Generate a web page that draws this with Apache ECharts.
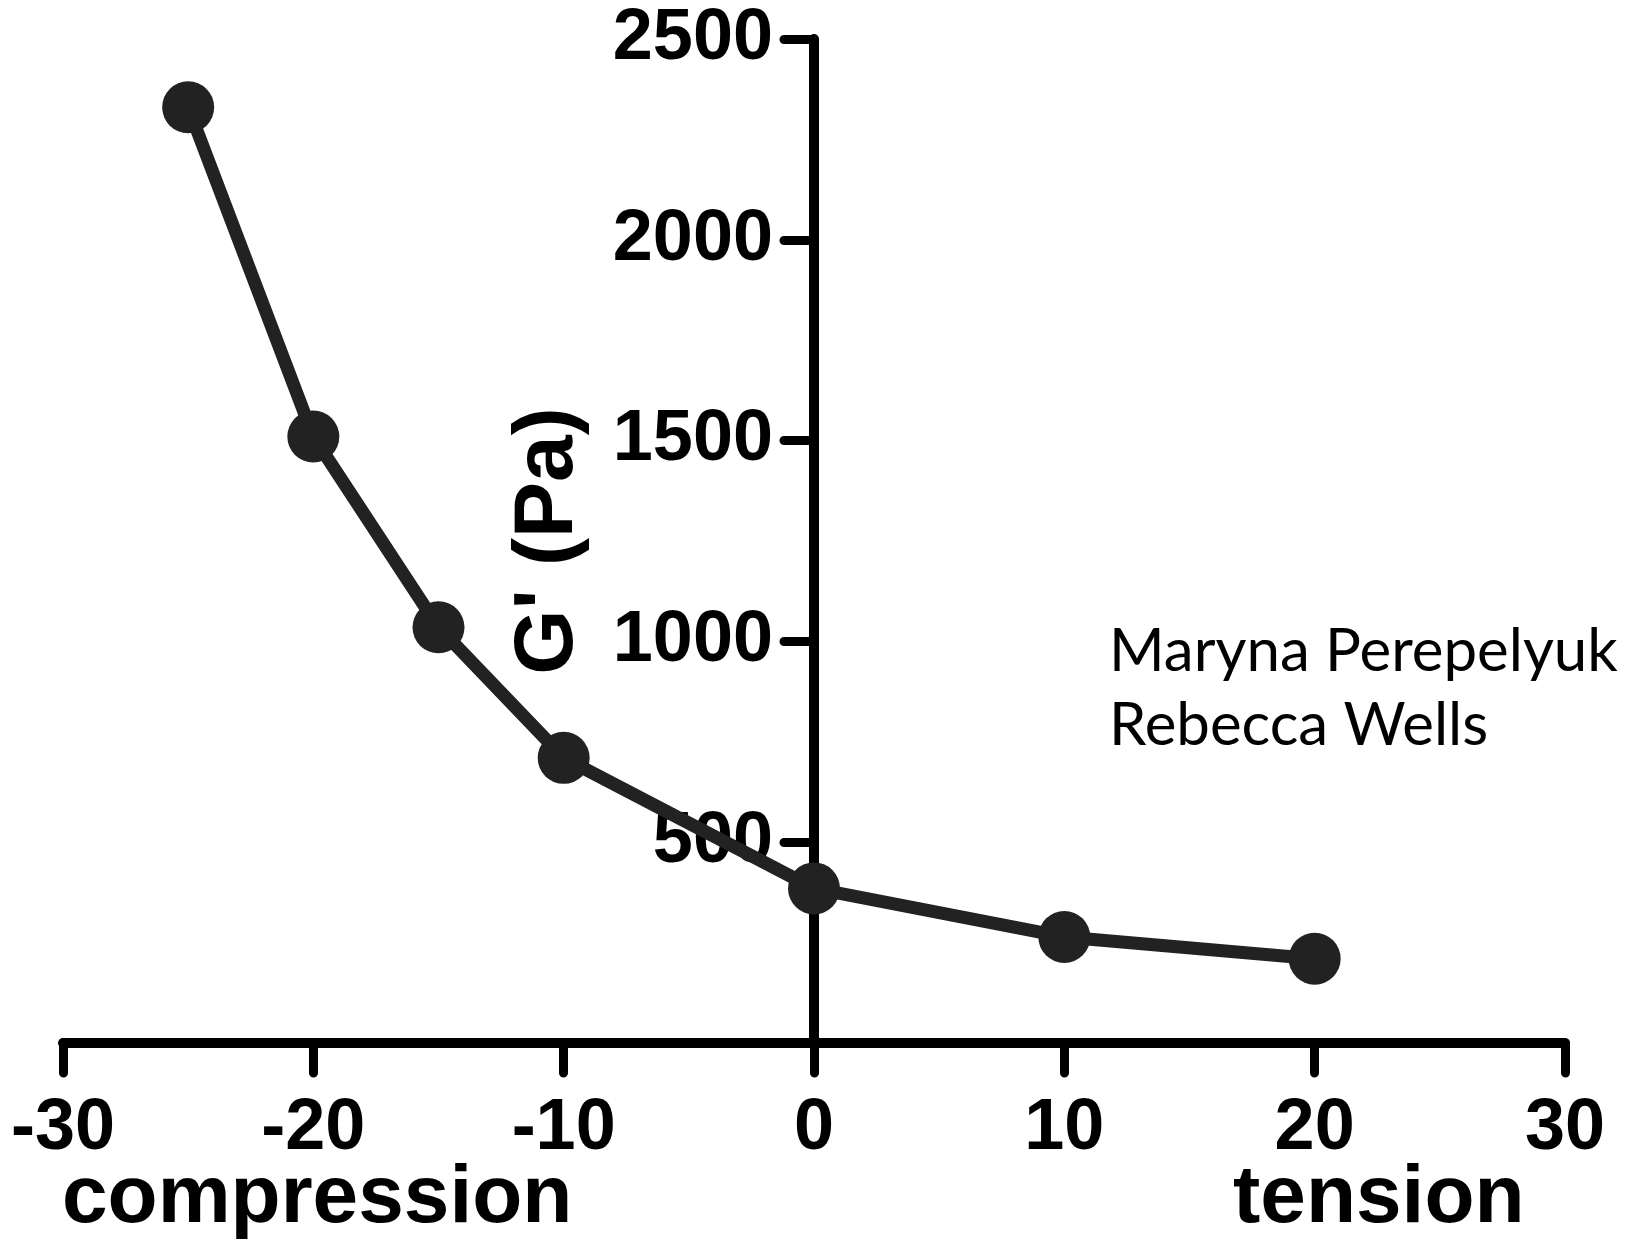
<!DOCTYPE html>
<html>
<head>
<meta charset="utf-8">
<title>G' vs strain</title>
<script src="https://cdn.jsdelivr.net/npm/echarts@6/dist/echarts.min.js"></script>
<style>
  html, body { margin: 0; padding: 0; background: #fff; }
  #chart { width: 1625px; height: 1243px; }
</style>
</head>
<body>
<div id="chart"></div>
<script>
// Strain (%) : negative = compression, positive = tension
const strain = [-25, -20, -15, -10, 0, 10, 20];
// Storage modulus G' (Pa)
const modulus = [2330, 1510, 1035, 710, 385, 264, 210];

const xTicks = { min: -30, max: 30, interval: 10 };
const yTicks = { min: 0, max: 2500, interval: 500 };

const authors = ['Maryna Perepelyuk', 'Rebecca Wells'];

const AXIS_FONT = "'Liberation Sans', Arial, Helvetica, sans-serif";
const INK = '#000';
const LINE_INK = '#222';

const GRID = { left: 63, right: 60, top: 39, bottom: 200 };
const WIDTH = 1625;

// the vertical axis crosses the horizontal one at strain = 0
const plotWidth = WIDTH - GRID.left - GRID.right;
const zeroOffset = -plotWidth * (0 - xTicks.min) / (xTicks.max - xTicks.min);

const chart = echarts.init(document.getElementById('chart'), null, { renderer: 'canvas' });

const axisCommon = {
  type: 'value',
  splitLine: { show: false },
  axisLine: { show: true, onZero: false, lineStyle: { color: INK, width: 10, cap: 'round', join: 'round' } },
  axisTick: { show: true, inside: false, length: 30, lineStyle: { color: INK, width: 9, cap: 'round' } },
  axisLabel: { color: INK, fontFamily: AXIS_FONT, fontWeight: 'bold', fontSize: 72 }
};

chart.setOption({
  backgroundColor: '#fff',
  animation: false,
  grid: Object.assign({ containLabel: false, outerBoundsMode: 'none' }, GRID),
  xAxis: Object.assign({}, axisCommon, {
    min: xTicks.min, max: xTicks.max, interval: xTicks.interval,
    axisLabel: Object.assign({}, axisCommon.axisLabel, { margin: 50 })
  }),
  yAxis: Object.assign({}, axisCommon, {
    position: 'left',
    offset: zeroOffset,
    min: yTicks.min, max: yTicks.max, interval: yTicks.interval,
    axisLabel: Object.assign({}, axisCommon.axisLabel, {
      margin: 41,
      formatter: v => (v === 0 ? '' : String(v))
    })
  }),
  series: [{
    type: 'line',
    data: strain.map((s, i) => [s, modulus[i]]),
    symbol: 'circle',
    symbolSize: 52,
    lineStyle: { color: LINE_INK, width: 13 },
    itemStyle: { color: LINE_INK },
    z: 3
  }],
  graphic: [
    {
      type: 'text', x: 549, y: 541, rotation: Math.PI / 2,
      style: { text: "G' (Pa)", fill: INK, font: "bold 84px " + AXIS_FONT, align: 'center', verticalAlign: 'middle' }
    },
    {
      type: 'text', x: 62, y: 1199,
      style: { text: 'compression', fill: INK, font: "bold 82px " + AXIS_FONT, align: 'left', verticalAlign: 'middle' }
    },
    {
      type: 'text', x: 1233, y: 1199,
      style: { text: 'tension', fill: INK, font: "bold 82px " + AXIS_FONT, align: 'left', verticalAlign: 'middle' }
    },
    {
      type: 'text', x: 1109, y: 652,
      style: { text: authors[0], fill: INK, font: "60px Lato, 'Open Sans', sans-serif", align: 'left', verticalAlign: 'middle' }
    },
    {
      type: 'text', x: 1109, y: 726,
      style: { text: authors[1], fill: INK, font: "60px Lato, 'Open Sans', sans-serif", align: 'left', verticalAlign: 'middle' }
    }
  ]
});
</script>
</body>
</html>
